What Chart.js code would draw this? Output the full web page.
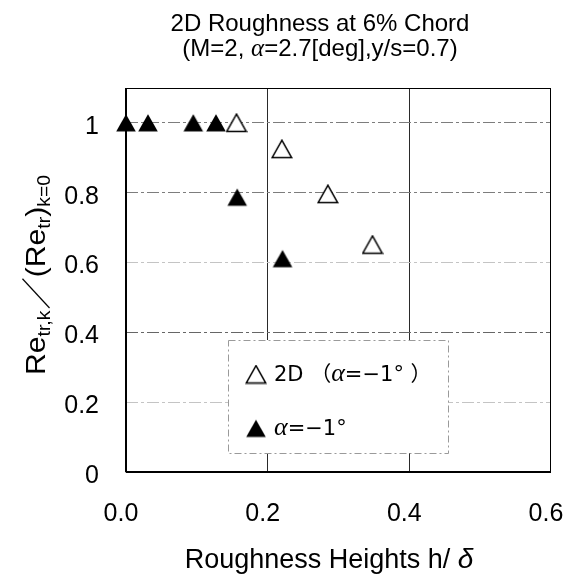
<!DOCTYPE html>
<html>
<head>
<meta charset="utf-8">
<script src="https://cdn.jsdelivr.net/npm/chart.js@4.4.1/dist/chart.umd.min.js"></script>
<style>
  html, body { margin: 0; padding: 0; background: #fff; }
  canvas { display: block; }
</style>
</head>
<body>
<canvas id="chart" width="575" height="579"></canvas>
<script>
// ---- data ----
const titleLines = ['2D Roughness at 6% Chord', '(M=2, α=2.7[deg],y/s=0.7)'];
const xTitle = 'Roughness Heights h/ δ';
const xTicks = [0, 0.2, 0.4, 0.6];
const yTicks = [0, 0.2, 0.4, 0.6, 0.8, 1];

const series2DLabel = '2D （α=−1° ）';
const series2DX = [0.156, 0.220, 0.285, 0.348];
const series2DY = [1.0, 0.925, 0.796, 0.651];

const seriesAlphaLabel = 'α=−1°';
const seriesAlphaX = [0.0, 0.031, 0.095, 0.127, 0.157, 0.221];
const seriesAlphaY = [1.0, 1.0, 1.0, 1.0, 0.787, 0.611];

// ---- helpers ----
const SANS = '"Liberation Sans", Arial, "Noto Sans CJK JP", sans-serif';
const WIDE = '"DejaVu Sans", "Noto Sans CJK JP", sans-serif';

function toPoints(xs, ys) {
  return xs.map((x, i) => ({ x: x, y: ys[i] }));
}

// triangle marker drawn on a small canvas, centred on the point
function makeTriangle(filled) {
  const c = document.createElement('canvas');
  c.width = 22; c.height = 20;
  const g = c.getContext('2d');
  g.beginPath();
  g.moveTo(11, 1.2);
  g.lineTo(20.8, 18.6);
  g.lineTo(1.2, 18.6);
  g.closePath();
  if (filled) {
    g.fillStyle = '#000';
    g.fill();
  } else {
    g.fillStyle = '#fff';
    g.fill();
    g.lineWidth = 1.5;
    g.strokeStyle = '#000';
    g.stroke();
  }
  return c;
}
const openTri = makeTriangle(false);
const filledTri = makeTriangle(true);

// split text so Greek letters are set in italic
function textRuns(str, font, greekFont) {
  const runs = [];
  let buf = '';
  for (const ch of str) {
    if (ch === 'α' || ch === 'δ') {
      if (buf) { runs.push({ t: buf, font: font }); buf = ''; }
      runs.push({ t: ch, font: greekFont });
    } else {
      buf += ch;
    }
  }
  if (buf) runs.push({ t: buf, font: font });
  return runs;
}
function runsWidth(ctx, runs) {
  let w = 0;
  for (const r of runs) { ctx.font = r.font; w += ctx.measureText(r.t).width + (r.gap || 0); }
  return w;
}
function drawRuns(ctx, runs, x, y) {
  let cx = x;
  for (const r of runs) {
    ctx.font = r.font;
    ctx.fillText(r.t, cx, y + (r.dy || 0));
    cx += ctx.measureText(r.t).width + (r.gap || 0);
  }
}
function drawCentered(ctx, runs, cx, y) {
  drawRuns(ctx, runs, cx - runsWidth(ctx, runs) / 2, y);
}

// ---- plugins ----
const whiteBackground = {
  id: 'whiteBackground',
  beforeDraw(chart) {
    const ctx = chart.ctx;
    ctx.save();
    ctx.fillStyle = '#fff';
    ctx.fillRect(0, 0, chart.width, chart.height);
    ctx.restore();
  }
};

const plotFrame = {
  id: 'plotFrame',
  beforeDatasetsDraw(chart) {
    const { ctx, chartArea: a } = chart;
    ctx.save();
    ctx.strokeStyle = '#000';
    ctx.lineWidth = 1;
    ctx.strokeRect(a.left, a.top + 0.5, a.right - a.left - 0.5, a.bottom - a.top - 0.5);
    ctx.lineWidth = 2;
    ctx.beginPath();
    ctx.moveTo(a.left, a.top);
    ctx.lineTo(a.left, a.bottom);
    ctx.moveTo(a.left, a.bottom);
    ctx.lineTo(a.right, a.bottom);
    ctx.stroke();
    ctx.restore();
  }
};

const insetLegend = {
  id: 'insetLegend',
  afterDatasetsDraw(chart) {
    const { ctx, chartArea: a } = chart;
    const bx = a.left + 102, by = a.top + 252, bw = 220, bh = 113;
    ctx.save();
    ctx.fillStyle = '#fff';
    ctx.fillRect(bx, by, bw, bh);
    ctx.strokeStyle = '#9a9a9a';
    ctx.lineWidth = 1;
    ctx.setLineDash([7, 3, 2, 3]);
    ctx.strokeRect(bx + 0.5, by + 0.5, bw, bh);
    ctx.setLineDash([]);
    ctx.fillStyle = '#000';
    ctx.textBaseline = 'alphabetic';
    ctx.textAlign = 'left';
    const font = '21px ' + WIDE;
    const greek = 'italic 26px "Liberation Serif", serif';
    const rows = [
      { ds: chart.data.datasets[0], cy: by + 34.5, base: by + 41 },
      { ds: chart.data.datasets[1], cy: by + 88.5, base: by + 95 }
    ];
    for (const r of rows) {
      const img = r.ds.pointStyle;
      ctx.drawImage(img, bx + 28 - img.width / 2, r.cy - img.height / 2);
      drawRuns(ctx, textRuns(r.ds.label, font, greek), bx + 46, r.base);
    }
    ctx.restore();
  }
};

const textBlocks = {
  id: 'textBlocks',
  afterDraw(chart) {
    const { ctx, chartArea: a } = chart;
    ctx.save();
    ctx.fillStyle = '#000';
    ctx.textAlign = 'left';
    ctx.textBaseline = 'alphabetic';

    // chart title, two lines
    const tFont = '24px ' + SANS;
    const tGreek = 'italic 25px "Liberation Serif", serif';
    drawCentered(ctx, textRuns(titleLines[0], tFont, tGreek), a.left + 194, a.top - 57);
    drawCentered(ctx, textRuns(titleLines[1], tFont, tGreek), a.left + 194, a.top - 32);

    // x title
    drawCentered(ctx, textRuns(xTitle, '27px ' + SANS, 'italic 28px ' + SANS), a.left + 203, a.bottom + 96);

    // y title: Re_{tr,k} / (Re_{tr})_{k=0}
    const big = '28px ' + SANS;
    const sub = '18px ' + SANS;
    const yr = [
      { t: 'Re', font: big },
      { t: 'tr,k', font: sub, dy: 5, gap: 1 },
      { t: '／', font: '30px "Noto Sans CJK JP", ' + SANS, dy: 2 },
      { t: '(', font: big },
      { t: 'Re', font: big },
      { t: 'tr', font: sub, dy: 5 },
      { t: ')', font: big },
      { t: 'k=0', font: sub, dy: 5 }
    ];
    const yw = runsWidth(ctx, yr);
    const midY = (a.top + a.bottom) / 2;
    ctx.translate(a.left - 81, midY + 95);
    ctx.rotate(-Math.PI / 2);
    ctx.scale(200 / yw, 1);
    drawRuns(ctx, yr, 0, 0);
    ctx.restore();
  }
};

// ---- chart ----
const xGridColor = (c) => {
  const v = c.tick ? c.tick.value : null;
  return (v !== null && v > 0.01 && v < 0.59) ? '#2a2a2a' : 'rgba(0,0,0,0)';
};
const yGridColor = (c) => {
  const v = c.tick ? +c.tick.value.toFixed(2) : null;
  if (v === 1 || v === 0.8) return '#7d7d7d';
  if (v === 0.4) return '#666';
  if (v === 0.6 || v === 0.2) return '#c4c4c4';
  return 'rgba(0,0,0,0)';
};

new Chart(document.getElementById('chart'), {
  type: 'scatter',
  data: {
    datasets: [
      {
        label: series2DLabel,
        data: toPoints(series2DX, series2DY),
        pointStyle: openTri,
        pointRadius: 10,
        pointHoverRadius: 10,
        clip: false
      },
      {
        label: seriesAlphaLabel,
        data: toPoints(seriesAlphaX, seriesAlphaY),
        pointStyle: filledTri,
        pointRadius: 10,
        pointHoverRadius: 10,
        clip: false
      }
    ]
  },
  options: {
    responsive: false,
    animation: false,
    devicePixelRatio: 1,
    layout: { padding: { left: 0, right: 24, top: 88, bottom: 0 } },
    plugins: {
      legend: { display: false },
      tooltip: { enabled: false },
      title: { display: false }
    },
    scales: {
      x: {
        type: 'linear',
        min: 0,
        max: 0.6,
        afterFit(scale) {
          scale.height = 107;
          scale.paddingLeft = 0;
          scale.paddingRight = 0;
        },
        afterBuildTicks(scale) { scale.ticks = xTicks.map(v => ({ value: v })); },
        border: { display: false },
        grid: { color: xGridColor, lineWidth: 1, drawTicks: false },
        ticks: {
          color: '#000',
          font: { family: SANS, size: 25 },
          padding: 27,
          labelOffset: -5,
          maxRotation: 0,
          autoSkip: false,
          callback: (v) => Number(v).toFixed(1)
        }
      },
      y: {
        type: 'linear',
        min: 0,
        max: 1.1,
        afterFit(scale) {
          scale.width = 126;
          scale.paddingTop = 0;
          scale.paddingBottom = 0;
        },
        afterBuildTicks(scale) { scale.ticks = yTicks.map(v => ({ value: v })); },
        border: { display: false, dash: [12, 3, 3, 3] },
        grid: { color: yGridColor, lineWidth: 1, drawTicks: false },
        ticks: {
          color: '#000',
          font: { family: SANS, size: 25 },
          padding: 27,
          labelOffset: 4,
          autoSkip: false,
          callback: (v) => (v === 0 || Math.abs(v - 1) < 1e-9) ? String(Math.round(v)) : Number(v).toFixed(1)
        }
      }
    }
  },
  plugins: [whiteBackground, plotFrame, insetLegend, textBlocks]
});
</script>
</body>
</html>
